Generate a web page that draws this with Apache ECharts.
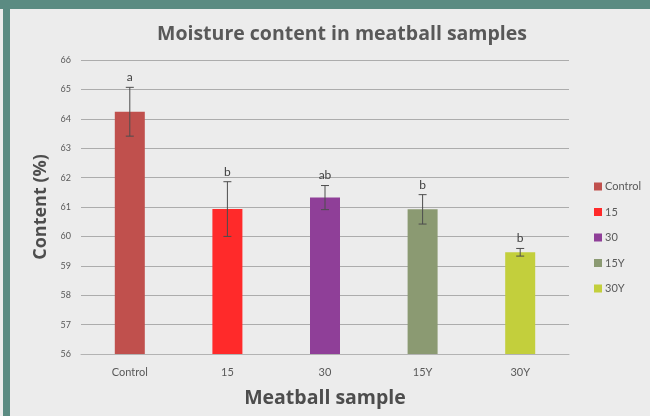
<!DOCTYPE html>
<html>
<head>
<meta charset="utf-8">
<script src="https://cdn.jsdelivr.net/npm/echarts@6/dist/echarts.min.js"></script>
<style>
  html, body { margin: 0; padding: 0; background: #ececec; }
  .frame {
    position: relative;
    width: 650px;
    height: 416px;
    box-sizing: border-box;
    border-top: 9px solid #5b8b82;
    overflow: hidden;
  }
  .frame::before {
    content: '';
    position: absolute;
    left: 3px; top: 0; bottom: 0;
    width: 7px;
    background: #5b8b82;
    z-index: 2;
  }
  .chart { position: absolute; left: 0; top: -9px; width: 650px; height: 416px; }
</style>
</head>
<body>
<div class="frame"><div class="chart"></div></div>
<script>
  const categories = ['Control', '15', '30', '15Y', '30Y'];
  const means = [64.24, 60.93, 61.32, 60.92, 59.46];
  const errors = [0.83, 0.93, 0.41, 0.5, 0.13];
  const letters = ['a', 'b', 'ab', 'b', 'b'];
  const yTicks = { min: 56, max: 66, interval: 1 };

  (function () {
    const myChart = echarts.init(document.querySelector('.chart'));
    const myColor = ['#c0504d', '#ff2a2a', '#8f3f98', '#8b9a72', '#c3cf3c'];
    const font = 'Lato, "Open Sans", sans-serif';
    const boldFont = '"Open Sans", sans-serif';

    // 每个样本一个系列，方便图例显示各自颜色
    const barSeries = categories.map((name, i) => ({
      name: name,
      type: 'bar',
      barWidth: 30,
      barGap: '-100%',
      itemStyle: { color: myColor[i] },
      data: categories.map((c, j) => (j === i ? means[i] : '-')),
      z: 2,
    }));

    // 误差线 + 显著性字母
    const errorSeries = {
      type: 'custom',
      name: 'error',
      z: 5,
      data: means.map((m, i) => [i, m - errors[i], m + errors[i], letters[i]]),
      renderItem(params, api) {
        const lo = api.coord([api.value(0), api.value(1)]);
        const hi = api.coord([api.value(0), api.value(2)]);
        const cap = 4;
        const style = { stroke: '#4d4d4d', lineWidth: 1 };
        return {
          type: 'group',
          children: [
            { type: 'line', shape: { x1: hi[0], y1: hi[1], x2: lo[0], y2: lo[1] }, style },
            { type: 'line', shape: { x1: hi[0] - cap, y1: hi[1], x2: hi[0] + cap, y2: hi[1] }, style },
            { type: 'line', shape: { x1: lo[0] - cap, y1: lo[1], x2: lo[0] + cap, y2: lo[1] }, style },
            {
              type: 'text',
              x: hi[0],
              y: hi[1] - 4,
              style: {
                text: api.value(3),
                fill: '#404040',
                font: '12px ' + font,
                align: 'center',
                verticalAlign: 'bottom',
              },
            },
          ],
        };
      },
    };

    const option = {
      animation: false,
      backgroundColor: '#ececec',
      title: {
        text: 'Moisture content in meatball samples',
        left: 152,
        top: 19,
        textStyle: { color: '#595959', fontSize: 19.5, fontWeight: 'bold', fontFamily: boldFont },
      },
      legend: {
        orient: 'vertical',
        left: 589,
        top: 176,
        itemWidth: 8,
        itemHeight: 8,
        itemGap: 14.5,
        icon: 'rect',
        data: categories,
        textStyle: { color: '#595959', fontSize: 11, fontFamily: font, padding: [0, 0, 0, -2] },
      },
      grid: { left: 81, right: 81, top: 60, bottom: 62 },
      xAxis: {
        type: 'category',
        data: categories,
        name: 'Meatball sample',
        nameLocation: 'middle',
        nameGap: 34,
        nameTextStyle: { color: '#4d4d4d', fontSize: 19.5, fontWeight: 'bold', fontFamily: boldFont },
        axisTick: { show: false },
        axisLine: { lineStyle: { color: '#b3b3b3' } },
        axisLabel: { color: '#595959', fontSize: 11, fontFamily: font, margin: 13 },
      },
      yAxis: {
        type: 'value',
        min: yTicks.min,
        max: yTicks.max,
        interval: yTicks.interval,
        name: 'Content (%)',
        nameLocation: 'middle',
        nameGap: 30,
        nameTextStyle: { color: '#4d4d4d', fontSize: 18, fontWeight: 'bold', fontFamily: boldFont },
        axisLine: { show: false },
        axisTick: { show: false },
        axisLabel: { color: '#595959', fontSize: 9, fontFamily: font, margin: 10 },
        splitLine: { lineStyle: { color: '#acacac' } },
      },
      series: barSeries.concat([errorSeries]),
    };

    myChart.setOption(option);
  })();
</script>
</body>
</html>
